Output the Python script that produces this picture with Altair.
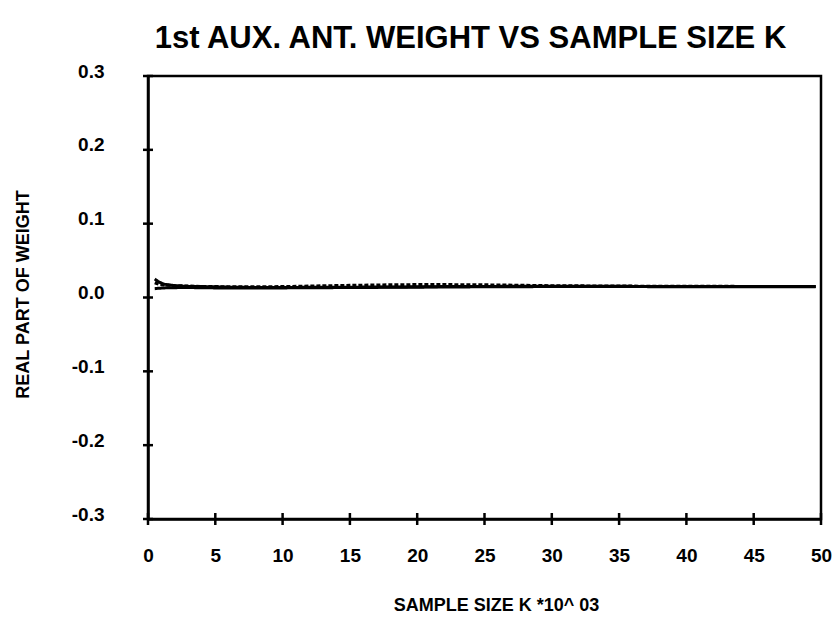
import altair as alt
import pandas as pd

# Sample size K (x 10^3) and the real part of the 1st auxiliary antenna weight
k_values = [0.5, 0.8, 1.2, 1.6, 2.0, 2.5, 3.0, 4.0, 5.0, 6.0, 7.0, 8.0, 10.0, 12.0,
            15.0, 18.0, 20.0, 22.0, 25.0, 28.0, 30.0, 33.0, 35.0, 38.0, 40.0,
            43.0, 45.0, 48.0, 49.6]
weight_a = [0.025, 0.021, 0.018, 0.017, 0.016, 0.0155, 0.015, 0.0148, 0.0145, 0.014,
            0.0138, 0.0135, 0.0135, 0.0138, 0.014, 0.0142, 0.0145, 0.0148, 0.015,
            0.0152, 0.0152, 0.0152, 0.0151, 0.015, 0.015, 0.0149, 0.0148, 0.0148, 0.0148]
weight_b = [0.012, 0.0125, 0.013, 0.0132, 0.0133, 0.0135, 0.0135, 0.0132, 0.013, 0.0128,
            0.0127, 0.0128, 0.013, 0.0132, 0.0135, 0.0138, 0.014, 0.0142, 0.0145,
            0.0147, 0.0148, 0.0148, 0.0148, 0.0147, 0.0147, 0.0146, 0.0146, 0.0146, 0.0146]
weight_c = [0.02, 0.018, 0.017, 0.0165, 0.016, 0.0158, 0.0155, 0.015, 0.0148, 0.0146,
            0.0145, 0.0145, 0.0148, 0.0155, 0.0165, 0.0172, 0.0175, 0.0175, 0.0172,
            0.0165, 0.016, 0.0157, 0.0155, 0.0153, 0.0152, 0.0151, 0.015, 0.015, 0.015]

y_ticks = [-0.3, -0.2, -0.1, 0.0, 0.1, 0.2, 0.3]
x_ticks = [0, 5, 10, 15, 20, 25, 30, 35, 40, 45, 50]

W, H = 673, 443
FONT = "Liberation Sans"

rows = []
for name, series in (("a", weight_a), ("b", weight_b), ("c", weight_c)):
    for k, w in zip(k_values, series):
        rows.append({"k": k, "w": w, "run": name})
df = pd.DataFrame(rows)

x_scale = alt.Scale(domain=[0, 50], nice=False, zero=False)
y_scale = alt.Scale(domain=[-0.3, 0.3], nice=False, zero=False)

x_axis = alt.Axis(values=x_ticks, format="d", ticks=False, grid=False,
                  labelFont=FONT, labelFontWeight="bold", labelFontSize=19,
                  labelColor="black", labelPadding=27, labelFlush=False,
                  domainColor="black", domainWidth=2.5,
                  title="SAMPLE SIZE K  *10^ 03",
                  titleFont=FONT, titleFontWeight="bold", titleFontSize=18,
                  titleColor="black", titlePadding=31, titleX=348)
y_axis = alt.Axis(values=y_ticks, ticks=False, grid=False,
                  labelExpr="(datum.value < 0 ? '-' : '') + format(abs(datum.value), '.1f')",
                  labelFont=FONT, labelFontWeight="bold", labelFontSize=19,
                  labelColor="black", labelPadding=44, labelOffset=-5,
                  labelFlush=False,
                  domainColor="black", domainWidth=2.5, title="REAL PART OF WEIGHT",
                  titleFont=FONT, titleFontWeight="bold", titleFontSize=18,
                  titleColor="black", titlePadding=39, titleY=218)

lines = alt.Chart(df).mark_line(color="black", strokeWidth=3).encode(
    x=alt.X("k:Q", scale=x_scale, axis=x_axis),
    y=alt.Y("w:Q", scale=y_scale, axis=y_axis),
    detail="run:N",
    strokeDash=alt.condition(alt.datum.run == "c", alt.value([4, 2]), alt.value([1, 0])),
)

ytick_df = pd.DataFrame({"v": y_ticks})
xtick_df = pd.DataFrame({"v": x_ticks})

yticks = alt.Chart(ytick_df).mark_rule(color="black", strokeWidth=2.5).encode(
    y=alt.Y("v:Q", scale=y_scale),
    x=alt.value(-5), x2=alt.value(5),
)
xticks = alt.Chart(xtick_df).mark_rule(color="black", strokeWidth=2.5).encode(
    x=alt.X("v:Q", scale=x_scale),
    y=alt.value(H - 6), y2=alt.value(H + 6),
)

chart = alt.layer(lines, yticks, xticks).properties(
    width=W, height=H,
    title=alt.TitleParams("1st AUX. ANT. WEIGHT VS SAMPLE SIZE K", font=FONT,
                          fontWeight="bold", fontSize=31, color="black",
                          anchor="middle", dx=-14, offset=7),
    autosize=alt.AutoSizeParams(type="none"),
    padding={"left": 148, "top": 76, "right": 15, "bottom": 109},
    background="white",
).configure_view(stroke="black", strokeWidth=2.5)

chart.save("out.html", embed_options={"renderer": "svg", "actions": False})
